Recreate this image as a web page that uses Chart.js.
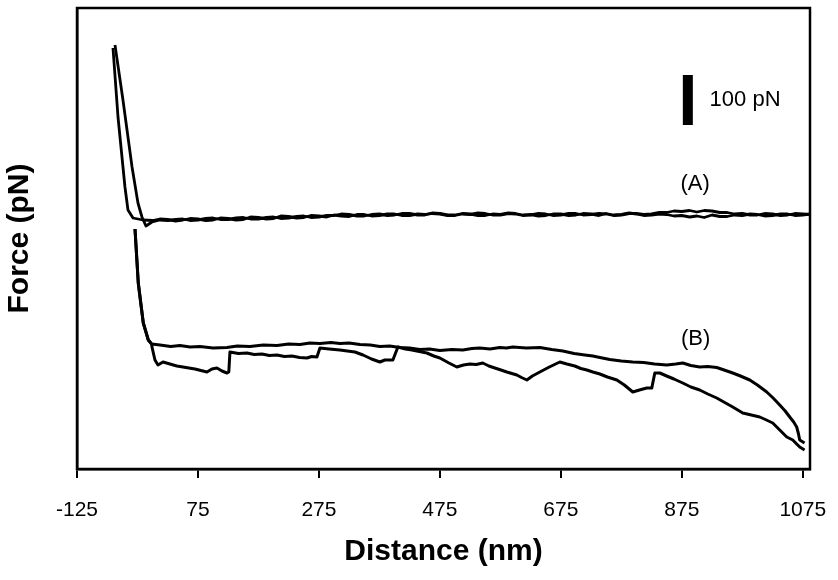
<!DOCTYPE html>
<html>
<head>
<meta charset="utf-8">
<title>Force vs distance</title>
<script src="https://cdn.jsdelivr.net/npm/chart.js@4/dist/chart.umd.min.js"></script>
<style>
    body { margin: 0; background: #fff; }
    #wrap { width: 838px; height: 580px; }
</style>
</head>
<body>
<div id="wrap"><canvas id="forceChart" width="838" height="580"></canvas></div>
<script>
// ---------------- DATA ----------------
// x = distance (nm), y = force (pN, arbitrary offset)
const xTicks = [-125, 75, 275, 475, 675, 875, 1075];

// curve (A): approach + retract, nearly on top of each other
const traceA1 = [
    [-65.5, 842], [-57.2, 704], [-45.7, 564], [-40.7, 518], [-32.4, 502], [-15.9, 498],
    [0, 497], [12, 500], [25, 499], [38, 496], [50, 498], [62, 501], [75, 500], [88, 497],
    [100, 498], [112, 502], [125, 501], [138, 498], [150, 499], [162, 504], [175, 503], [188, 500],
    [200, 501], [212, 506], [225, 505], [238, 502], [250, 503], [262, 507], [275, 506], [288, 504],
    [300, 508], [312, 506], [325, 505], [338, 509], [350, 509], [362, 506], [375, 507], [388, 510],
    [400, 510], [412, 507], [425, 507], [438, 510], [450, 509], [462, 512], [475, 511], [488, 508],
    [500, 508], [512, 511], [525, 510], [538, 507], [550, 507], [562, 510], [575, 509], [588, 512],
    [600, 511], [612, 508], [625, 508], [638, 511], [650, 510], [662, 507], [675, 508], [688, 511],
    [700, 511], [712, 508], [725, 509], [738, 511], [750, 510], [762, 507], [775, 508], [788, 511],
    [800, 511], [812, 509], [825, 510], [838, 513], [850, 513], [862, 516], [875, 515], [888, 517],
    [900, 514], [912, 517], [925, 516], [938, 513], [950, 513], [962, 510], [975, 511], [988, 508],
    [1000, 508], [1012, 511], [1025, 510], [1038, 507], [1050, 508], [1062, 511], [1075, 510], [1087, 509]
];
const traceA2 = [
    [-62.2, 848], [-49, 738], [-34, 604], [-24.2, 532], [-17.6, 504], [-11, 486], [-1, 494], [12, 498],
    [25, 497], [38, 499], [50, 500], [62, 497], [75, 498], [88, 501], [100, 502], [112, 499],
    [125, 499], [138, 502], [150, 503], [162, 500], [175, 500], [188, 503], [200, 504], [212, 501],
    [225, 502], [238, 505], [250, 506], [262, 503], [275, 504], [288, 507], [300, 507], [312, 510],
    [325, 509], [338, 506], [350, 506], [362, 509], [375, 510], [388, 507], [400, 508], [412, 511],
    [425, 511], [438, 508], [450, 508], [462, 511], [475, 510], [488, 507], [500, 507], [512, 510],
    [525, 509], [538, 512], [550, 511], [562, 508], [575, 508], [588, 511], [600, 510], [612, 507],
    [625, 509], [638, 506], [650, 507], [662, 510], [675, 510], [688, 507], [700, 508], [712, 511],
    [725, 510], [738, 507], [750, 511], [762, 508], [775, 509], [788, 512], [800, 510], [812, 507],
    [825, 508], [838, 510], [850, 509], [862, 506], [875, 507], [888, 504], [900, 506], [912, 503],
    [925, 508], [938, 505], [950, 505], [962, 508], [975, 507], [988, 510], [1000, 509], [1012, 506],
    [1025, 507], [1038, 510], [1050, 510], [1062, 507], [1075, 508], [1087, 510]
];

// curve (B): approach (upper) and retract (lower)
const traceB1 = [
    [-29.1, 480], [-23.7, 372], [-15.4, 292], [-7.1, 258], [-1.6, 250], [12.2, 248], [30, 245],
    [45.2, 247], [62, 244], [78.3, 245], [100, 242], [122.9, 243], [140, 246], [161, 245],
    [183, 248], [205.6, 247], [225, 250], [243.6, 249], [260, 252], [276.7, 251], [295, 253],
    [309.7, 251], [325, 252], [342.8, 249], [360, 248], [375.8, 245], [392, 246], [408.9, 243],
    [425, 242], [441.9, 239], [458, 240], [475, 237], [495, 239], [513, 238], [528, 241],
    [541, 242], [558, 240], [574, 243], [585, 242], [595.7, 244], [618, 242], [640.3, 243],
    [660, 239], [678.3, 236], [697, 231], [714.7, 228], [728, 226], [739.5, 223], [756, 219],
    [775, 216], [794, 214], [812, 213], [830, 210], [850.2, 208], [865, 210], [876.6, 212],
    [890, 207], [904.7, 204], [918, 205], [932.8, 203], [945, 198], [959.3, 192], [972, 186],
    [987.4, 178], [1000, 168], [1015.5, 154], [1026, 142], [1037, 128], [1046, 116],
    [1053.5, 104], [1060, 94], [1065, 84], [1068, 70], [1070, 58], [1078, 52]
];
const traceB2 = [
    [-29.1, 480], [-23.7, 372], [-15.4, 292], [-7.1, 258], [-1.6, 250], [-1.0, 244], [3.9, 218],
    [8.9, 208], [17.1, 214], [28.7, 210], [40, 206], [50.2, 204], [60, 202], [70, 200], [80, 197],
    [89.9, 194], [98.1, 200], [106.4, 202], [114.7, 196], [123, 192], [126, 194], [127.9, 234],
    [142, 231], [156, 232], [168, 229], [180.8, 230], [193, 227], [205.6, 228], [218, 225],
    [230.4, 226], [243, 223], [255.2, 222], [263, 225], [271.7, 224], [276.7, 242], [292, 240],
    [309.7, 238], [322, 236], [334.5, 234], [348, 228], [362, 220], [375.8, 214], [384, 218],
    [397.3, 218], [405.6, 244], [418, 240], [428.7, 238], [441, 235], [453.5, 232], [465, 226],
    [475, 222], [490, 212], [503, 204], [514, 208], [524.6, 210], [535, 209], [546, 212],
    [556, 206], [565.9, 202], [576, 198], [585.7, 194], [594, 191], [602.3, 188], [610, 183],
    [618.8, 178], [628, 186], [640.3, 194], [656, 204], [673.3, 214], [685, 210], [698.1, 206],
    [708, 201], [718, 198], [728, 194], [739.5, 190], [752, 184], [767.6, 178], [780, 168],
    [794, 154], [805, 158], [817.1, 162], [825.4, 162], [830.4, 192], [838.6, 192], [850, 186],
    [862, 180], [876.6, 172], [890, 164], [904.7, 158], [918, 150], [932.8, 142], [946, 133],
    [959.3, 124], [975.8, 112], [990, 108], [1003.9, 104], [1015, 98], [1025.4, 92], [1037, 78],
    [1048.6, 64], [1058.5, 58], [1065, 50], [1070, 44], [1078, 38]
];

// 100 pN scale bar
const scaleBar = [[885, 688], [885, 788]];

// text labels (data coordinates)
const notes = [
    { text: "(A)", x: 897, y: 570, align: "center", base: "middle" },
    { text: "(B)", x: 898, y: 260, align: "center", base: "middle" },
    { text: "100 pN", x: 921, y: 726, align: "left", base: "alphabetic" }
];

const FONT = "'Liberation Sans', Arial, sans-serif";

function toXY(arr) {
    return arr.map(p => ({ x: p[0], y: p[1] }));
}

function lineSet(arr, width) {
    return {
        data: toXY(arr),
        borderColor: "#000",
        borderWidth: width,
        pointRadius: 0,
        tension: 0,
        fill: false,
        borderJoinStyle: "round"
    };
}

// ---------------- FRAME + LABELS ----------------
const framePlugin = {
    id: "framePlugin",
    afterDatasetsDraw(chart) {
        const ctx = chart.ctx;
        const a = chart.chartArea;
        const xs = chart.scales.x;
        const ys = chart.scales.y;

        ctx.save();
        ctx.strokeStyle = "#000";
        ctx.lineWidth = 2.5;
        ctx.strokeRect(a.left, a.top, a.right - a.left, a.bottom - a.top);

        ctx.fillStyle = "#000";
        ctx.font = "22px " + FONT;
        notes.forEach(n => {
            ctx.textAlign = n.align;
            ctx.textBaseline = n.base;
            ctx.fillText(n.text, xs.getPixelForValue(n.x), ys.getPixelForValue(n.y));
        });
        ctx.restore();
    }
};

// ---------------- CHART ----------------
new Chart(document.getElementById("forceChart"), {
    type: "line",
    data: {
        datasets: [
            lineSet(traceA1, 2.8),
            lineSet(traceA2, 2.8),
            lineSet(traceB1, 3),
            lineSet(traceB2, 3),
            Object.assign(lineSet(scaleBar, 10), { borderCapStyle: "butt" })
        ]
    },
    plugins: [framePlugin],
    options: {
        responsive: false,
        animation: false,
        devicePixelRatio: 1,
        layout: { padding: { top: 8, right: 28, left: 0, bottom: 0 } },
        plugins: {
            legend: { display: false },
            tooltip: { enabled: false }
        },
        scales: {
            x: {
                type: "linear",
                min: -125,
                max: 1087,
                afterFit(scale) {
                    scale.height = 111;
                    scale.paddingLeft = 0;
                    scale.paddingRight = 0;
                },
                afterBuildTicks(scale) { scale.ticks = xTicks.map(v => ({ value: v })); },
                grid: {
                    drawOnChartArea: false,
                    drawTicks: true,
                    tickLength: 9,
                    color: "#000",
                    lineWidth: 2
                },
                border: { display: true, color: "#000", width: 2.5 },
                ticks: {
                    color: "#000",
                    padding: 20,
                    maxRotation: 0,
                    font: { family: FONT, size: 21 },
                    callback: v => String(v)
                },
                title: {
                    display: true,
                    text: "Distance (nm)",
                    color: "#000",
                    font: { family: FONT, size: 30, weight: "bold" },
                    padding: { top: 0, bottom: 10 }
                }
            },
            y: {
                type: "linear",
                min: 0,
                max: 922,
                afterFit(scale) { scale.width = 77; },
                grid: { display: false, drawTicks: false },
                border: { display: true, color: "#000", width: 2.5 },
                ticks: { display: false },
                title: {
                    display: true,
                    text: "Force (pN)",
                    color: "#000",
                    font: { family: FONT, size: 30, weight: "bold" },
                    padding: { top: 2, bottom: 0 }
                }
            }
        }
    }
});
</script>
</body>
</html>
